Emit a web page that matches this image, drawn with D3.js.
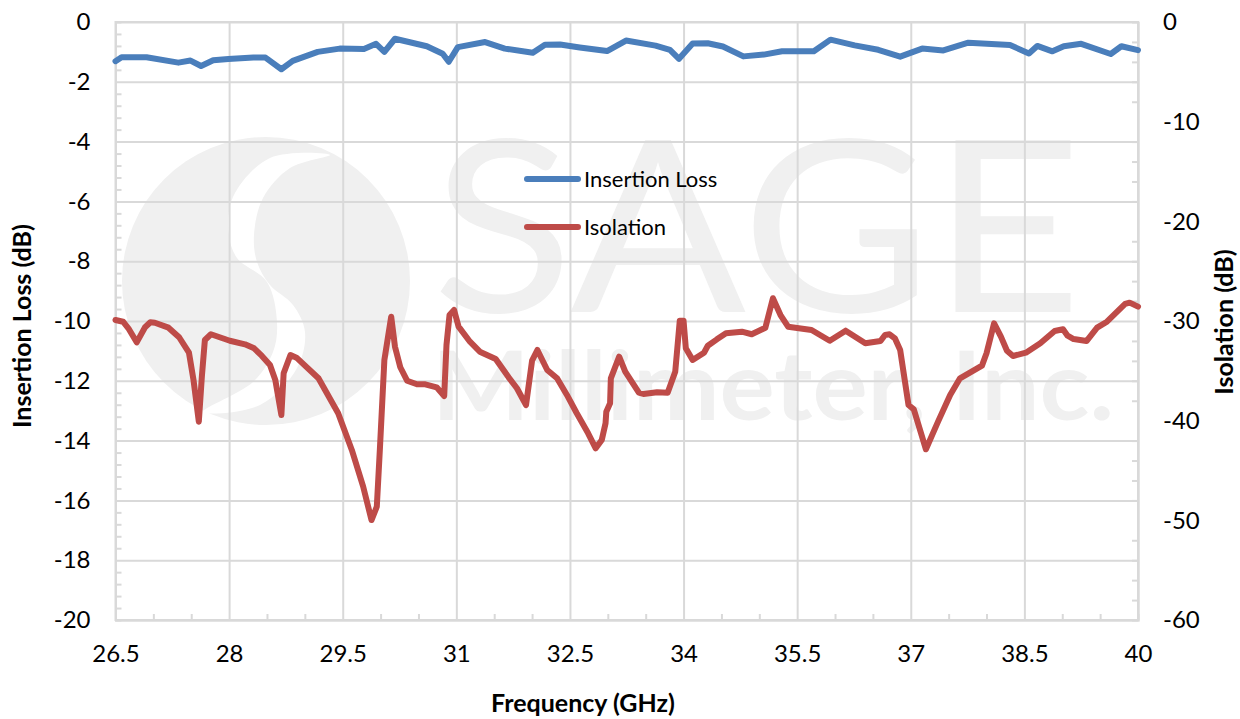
<!DOCTYPE html>
<html><head><meta charset="utf-8">
<script src="https://d3js.org/d3.v7.min.js"></script>
<style>html,body{margin:0;padding:0;background:#fff}svg{display:block}text{font-family:Lato,"Open Sans",sans-serif;fill:#000}</style>
</head><body><svg id="c" width="1240" height="719"></svg>
<script>
const lossFreq=[26.5,26.58,26.91,27.33,27.49,27.63,27.79,27.99,28.32,28.48,28.69,28.84,29.17,29.46,29.78,29.94,30.05,30.19,30.61,30.82,30.9,31.02,31.38,31.64,32.01,32.17,32.37,32.63,32.99,33.24,33.63,33.82,33.94,34.12,34.32,34.52,34.79,35.06,35.3,35.72,35.94,36.26,36.57,36.86,37.15,37.43,37.76,38.31,38.56,38.67,38.87,39.02,39.25,39.64,39.78,40];
const lossDb=[-1.31,-1.18,-1.18,-1.36,-1.29,-1.47,-1.28,-1.24,-1.19,-1.19,-1.58,-1.3,-1,-0.89,-0.9,-0.73,-1,-0.56,-0.81,-1.06,-1.33,-0.84,-0.67,-0.89,-1.03,-0.76,-0.75,-0.85,-0.97,-0.62,-0.79,-0.93,-1.23,-0.72,-0.71,-0.82,-1.15,-1.09,-0.98,-0.98,-0.59,-0.78,-0.93,-1.16,-0.89,-0.95,-0.69,-0.77,-1.05,-0.8,-0.98,-0.81,-0.73,-1.07,-0.81,-0.94];
const isoFreq=[26.5,26.6,26.67,26.78,26.89,26.96,27.02,27.2,27.34,27.47,27.53,27.6,27.64,27.68,27.76,28.01,28.21,28.33,28.43,28.54,28.61,28.69,28.72,28.81,28.89,29.18,29.44,29.62,29.77,29.88,29.95,29.99,30.05,30.14,30.19,30.26,30.35,30.48,30.59,30.74,30.84,30.87,30.91,30.97,31.03,31.18,31.31,31.52,31.69,31.8,31.92,32,32.07,32.2,32.33,32.46,32.59,32.74,32.84,32.92,32.97,32.98,33.03,33.04,33.15,33.23,33.41,33.47,33.65,33.79,33.89,33.95,34,34.03,34.12,34.27,34.32,34.44,34.56,34.77,34.9,35.08,35.18,35.28,35.38,35.69,35.93,36.14,36.4,36.6,36.66,36.72,36.79,36.86,36.9,36.97,37.04,37.2,37.36,37.52,37.65,37.94,38,38.1,38.19,38.27,38.35,38.52,38.71,38.9,39.01,39.07,39.15,39.32,39.46,39.59,39.83,39.89,40];
const isoDb=[-29.9,-30.07,-30.73,-32.14,-30.63,-30.13,-30.17,-30.67,-31.63,-33.18,-35.92,-40.1,-35.59,-31.91,-31.33,-31.98,-32.34,-32.74,-33.48,-34.41,-35.92,-39.43,-35.25,-33.41,-33.68,-35.75,-39.26,-42.94,-46.62,-49.97,-48.63,-42.94,-33.91,-29.57,-32.58,-34.64,-35.99,-36.35,-36.35,-36.65,-37.52,-32.4,-29.4,-28.9,-30.57,-32.08,-33.08,-33.81,-35.65,-36.75,-38.43,-33.98,-32.91,-34.92,-35.75,-37.42,-39.26,-41.27,-42.77,-41.94,-40.26,-39.1,-38.26,-35.75,-33.58,-35.09,-37.19,-37.32,-37.15,-37.19,-35.09,-29.97,-29.97,-32.74,-33.91,-33.18,-32.48,-31.84,-31.23,-31.07,-31.33,-30.67,-27.72,-29.4,-30.57,-30.9,-31.98,-30.97,-32.24,-32.01,-31.4,-31.33,-31.74,-32.91,-34.92,-38.43,-38.86,-42.87,-40.1,-37.42,-35.75,-34.48,-33.24,-30.23,-31.57,-32.98,-33.51,-33.18,-32.24,-31,-30.83,-31.47,-31.81,-32.01,-30.67,-30.07,-28.29,-28.16,-28.56];
const xTicks=[26.5,28,29.5,31,32.5,34,35.5,37,38.5,40];
const xMinor=[27,27.5,28.5,29,30,30.5,31.5,32,33,33.5,34.5,35,36,36.5,37.5,38,39,39.5];
const lossTicks=[0,-2,-4,-6,-8,-10,-12,-14,-16,-18,-20];
const lossMinor=[-0.4,-0.8,-1.2,-1.6,-2.4,-2.8,-3.2,-3.6,-4.4,-4.8,-5.2,-5.6,-6.4,-6.8,-7.2,-7.6,-8.4,-8.8,-9.2,-9.6,-10.4,-10.8,-11.2,-11.6,-12.4,-12.8,-13.2,-13.6,-14.4,-14.8,-15.2,-15.6,-16.4,-16.8,-17.2,-17.6,-18.4,-18.8,-19.2,-19.6];
const isoTicks=[0,-10,-20,-30,-40,-50,-60];
const isoMinor=[-2,-4,-6,-8,-12,-14,-16,-18,-22,-24,-26,-28,-32,-34,-36,-38,-42,-44,-46,-48,-52,-54,-56,-58];
const seriesNames=["Insertion Loss","Isolation"];
const seriesColors=["#4a7ebb","#be4b48"];

const L=115.5,R=1138,T=22,B=620;
const svg=d3.select("#c");
const x=d3.scaleLinear().domain([26.5,40]).range([L,R]);
const yL=d3.scaleLinear().domain([-20,0]).range([B,T]);
const yR=d3.scaleLinear().domain([-60,0]).range([B,T]);

// watermark
const wm=svg.append("g");
const mark="#f0f0f0";
wm.append("circle").attr("cx",266).attr("cy",281).attr("r",144).attr("fill",mark);
const swoosh=[[330,155],[270,158],[233,197],[229,235],[237,258],[267,282],[277,322],[273,352],[253,382],[203,412],[260,405],[297,368],[305,332],[293,305],[270,285],[257,262],[254,235],[263,198],[290,168]];
wm.append("path").attr("d",d3.line().curve(d3.curveCatmullRomClosed.alpha(0.5))(swoosh)).attr("fill","#fff");
wm.append("text").text("SAGE").attr("x",432).attr("y",312).attr("font-size",240).attr("textLength",650).attr("lengthAdjust","spacingAndGlyphs").style("fill",mark);
wm.append("text").text("Millimeter, Inc.").attr("x",432).attr("y",420).attr("font-size",95).attr("font-weight",700).attr("textLength",682).attr("lengthAdjust","spacingAndGlyphs").style("fill",mark);

const gridCol="#d9d9d9";
function styleAxis(g){g.select(".domain").attr("stroke",gridCol).attr("stroke-width",2);
 g.selectAll(".tick line").attr("stroke",gridCol).attr("stroke-width",2);
 g.selectAll("text").attr("font-size",24).style("fill","#000").style("font-family","Lato");}
// minor ticks
svg.append("g").attr("transform",`translate(${L},0)`).call(d3.axisRight(yL).tickValues(lossMinor).tickSize(6).tickFormat("")).call(styleAxis);
svg.append("g").attr("transform",`translate(0,${B})`).call(d3.axisTop(x).tickValues(xMinor).tickSize(6).tickFormat("")).call(styleAxis);
svg.append("g").attr("transform",`translate(${R},0)`).call(d3.axisLeft(yR).tickValues(isoMinor).tickSize(6).tickFormat("")).call(styleAxis);
// major grid
const fmt=d=>String(d);
const gx=svg.append("g").attr("transform",`translate(0,${T})`).call(d3.axisBottom(x).tickValues(xTicks).tickSize(B-T).tickPadding(25).tickFormat(fmt)).call(styleAxis);
gx.select(".domain").remove();
const gy=svg.append("g").attr("transform",`translate(${L},0)`).call(d3.axisLeft(yL).tickValues(lossTicks).tickSize(-(R-L)).tickPadding(25).tickFormat(fmt)).call(styleAxis);
gy.select(".domain").remove();
const gr=svg.append("g").attr("transform",`translate(${R},0)`).call(d3.axisRight(yR).tickValues(isoTicks).tickSize(0).tickPadding(25).tickFormat(fmt)).call(styleAxis);
gr.select(".domain").remove();
svg.append("rect").attr("x",L).attr("y",T).attr("width",R-L).attr("height",B-T).attr("fill","none").attr("stroke",gridCol).attr("stroke-width",2);

// series
const lineL=d3.line().x(i=>x(lossFreq[i])).y(i=>yL(lossDb[i]));
const lineR=d3.line().x(i=>x(isoFreq[i])).y(i=>yR(isoDb[i]));
svg.append("path").attr("d",lineL(d3.range(lossFreq.length))).attr("fill","none").attr("stroke",seriesColors[0]).attr("stroke-width",6).attr("stroke-linejoin","round").attr("stroke-linecap","round");
svg.append("path").attr("d",lineR(d3.range(isoFreq.length))).attr("fill","none").attr("stroke",seriesColors[1]).attr("stroke-width",6).attr("stroke-linejoin","round").attr("stroke-linecap","round");

// legend
const legY=[179,227];
seriesNames.forEach((n,i)=>{
 svg.append("line").attr("x1",527).attr("x2",578).attr("y1",legY[i]).attr("y2",legY[i]).attr("stroke",seriesColors[i]).attr("stroke-width",6).attr("stroke-linecap","round");
 svg.append("text").text(n).attr("x",584).attr("y",legY[i]+8).attr("font-size",22);
});
// titles
svg.append("text").text("Frequency (GHz)").attr("x",583).attr("y",712).attr("text-anchor","middle").attr("font-size",25).attr("font-weight",700);
svg.append("text").text("Insertion Loss (dB)").attr("transform","translate(31,326) rotate(-90)").attr("text-anchor","middle").attr("font-size",25).attr("font-weight",700);
svg.append("text").text("Isolation (dB)").attr("transform","translate(1233,322) rotate(-90)").attr("text-anchor","middle").attr("font-size",25).attr("font-weight",700);
</script></body></html>
